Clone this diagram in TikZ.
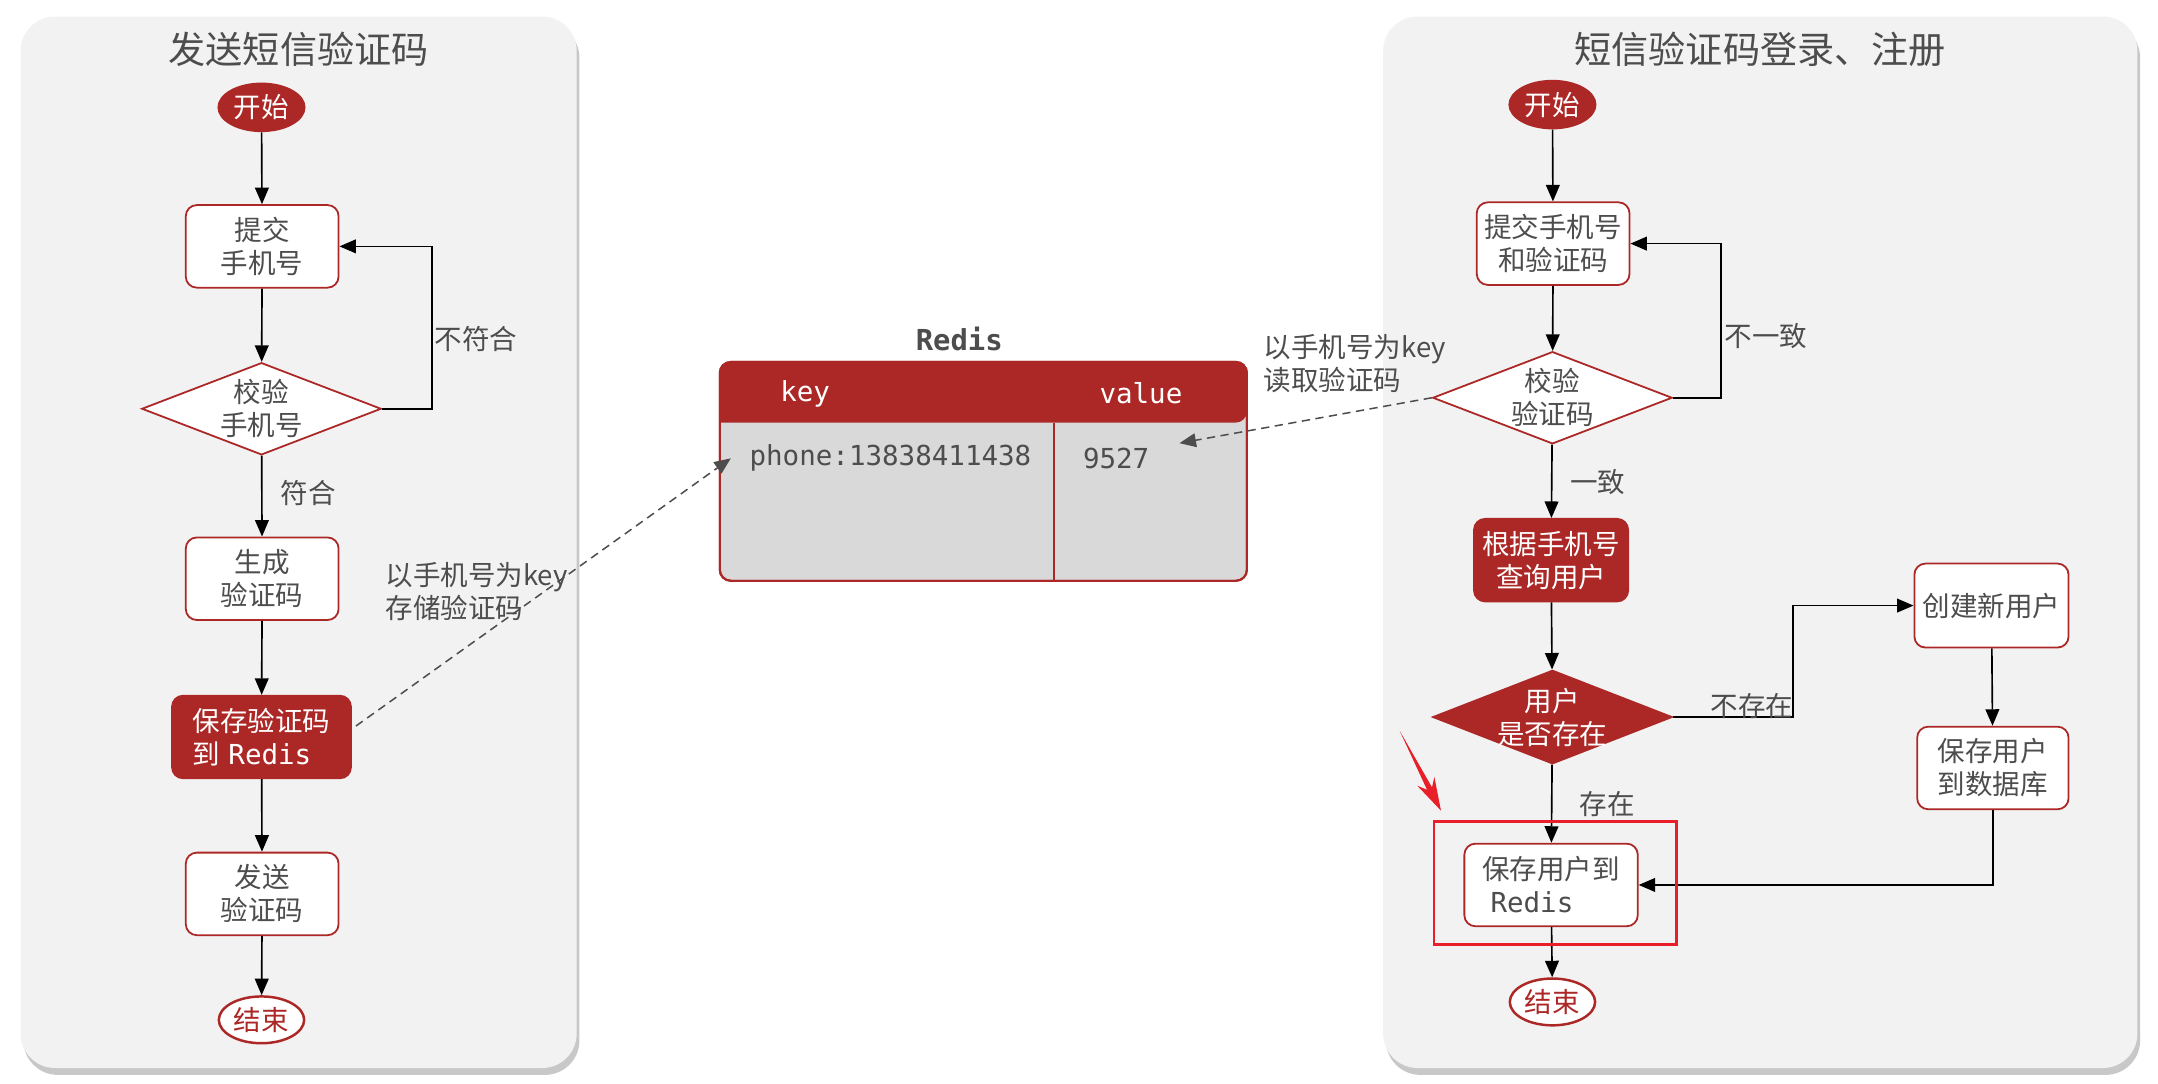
\documentclass[tikz,border=0pt]{standalone}
\usepackage{fontspec}
\setmainfont{Noto Sans CJK SC}
\newfontfamily\monof{DejaVu Sans Mono}
\usetikzlibrary{shapes.geometric,arrows.meta,shadows}
\definecolor{dred}{RGB}{172,40,38}
\definecolor{tgray}{RGB}{77,77,77}
\definecolor{pgray}{RGB}{242,242,242}
\definecolor{rbody}{RGB}{217,217,217}
\definecolor{hred}{RGB}{232,30,40}
\begin{document}
\begin{tikzpicture}[x=1pt,y=-1pt,
  font=\fontsize{20}{24}\selectfont,
  box/.style={draw=dred, line width=1.3pt, fill=white, rounded corners=8pt, minimum width=111pt, minimum height=60pt, inner sep=0pt, align=center, text=tgray},
  fbox/.style={box, fill=dred, text=white},
  dia/.style={diamond, draw=dred, line width=1.3pt, fill=white, minimum width=174pt, minimum height=67pt, inner sep=0pt, aspect=2.6},
  fdia/.style={dia, fill=dred},
  dtxt/.style={label={[align=center, text=tgray, inner sep=0pt]center:#1}},
  fdtxt/.style={label={[align=center, text=white, inner sep=0pt]center:#1}},
  startn/.style={ellipse, fill=dred, text=white, minimum width=64pt, minimum height=36pt, inner sep=0pt},
  endn/.style={ellipse, draw=dred, line width=1.8pt, fill=white, text=dred, minimum width=62pt, minimum height=34pt, inner sep=0pt},
  arr/.style={draw=black, line width=1.2pt, -{Triangle[length=12pt,width=10pt]}},
  darr/.style={draw=tgray, line width=1.1pt, dash pattern=on 6pt off 4pt, -{Triangle[length=12pt,width=10pt]}},
  lbl/.style={text=tgray, inner sep=0pt},
  panel/.style={fill=pgray, rounded corners=25pt, drop shadow={shadow xshift=2pt, shadow yshift=-5pt, opacity=0.3, fill=black!70}}
]
\fill[white] (0,0) rectangle (1568,787.6);
\useasboundingbox (0,0) rectangle (1568,787.6);

% panels
\path[panel] (15,12) rectangle (419,776);
\path[panel] (1005,12) rectangle (1553,776);
\node[lbl, font=\fontsize{27}{30}\selectfont] (t1) at (217,36) {发送短信验证码};
\node[lbl, font=\fontsize{27}{30}\selectfont] (t2) at (1279,36) {短信验证码登录、注册};

% left flow
\node[startn] (s1) at (190,78) {开始};
\node[box] (sub1) at (190.5,179) {提交\\手机号};
\node[dia, dtxt={校验\\手机号}] (chk1) at (190,297) {};
\node[box] (gen1) at (190.5,420.5) {生成\\验证码};
\node[fbox, minimum width=130pt, align=left] (save1) at (190,535.5) {保存验证码\\到\hspace{6pt}{\monof Redis}};
\node[box] (send1) at (190.5,649.5) {发送\\验证码};
\node[endn] (e1) at (190,741) {结束};

\draw[arr] (s1) -- (sub1);
\draw[arr] (sub1) -- (chk1);
\draw[arr] (chk1) -- (gen1);
\draw[arr] (gen1) -- (save1);
\draw[arr] (save1) -- (send1);
\draw[arr] (send1) -- (e1);
\draw[arr] (chk1.east) -- ++(36,0) |- (sub1.east);
\node[lbl] (l1) at (346,246) {不符合};
\node[lbl] (l2) at (224,358) {符合};
\node[lbl, align=left, anchor=west] (l3) at (280,430) {以手机号为key\\存储验证码};

% Redis table
\node[lbl, font=\monof\bfseries\fontsize{21}{24}\selectfont] (rt) at (697,246) {Redis};
\node[draw=dred, line width=1.5pt, fill=rbody, rounded corners=8pt, minimum width=383pt, minimum height=159pt, inner sep=0pt] (rtab) at (714.5,342.5) {};
\fill[dred] [rounded corners=8pt] (523,307) |- (714,263) -| (906,307) [sharp corners] -- cycle;
\draw[dred, line width=1.5pt, rounded corners=8pt] (523,263) rectangle (906,422);
\draw[dred, line width=1.2pt] (766,307) -- (766,422);
\node[text=white, font=\monof\fontsize{20}{24}\selectfont] (kh) at (585,286) {key};
\node[text=white, font=\monof\fontsize{20}{24}\selectfont] (vh) at (829,286) {value};
\node[lbl, font=\monof\fontsize{20}{24}\selectfont] (kv) at (647,333) {phone:13838411438};
\node[lbl, font=\monof\fontsize{20}{24}\selectfont] (vv) at (811,333) {9527};
\coordinate (kin) at (531,333);
\coordinate (vin) at (857,322);
\draw[darr] ([shift={(3,-8)}]save1.east) -- (kin);

% right flow
\node[startn] (s2) at (1128,76) {开始};
\node[box] (sub2) at (1128.5,177) {提交手机号\\和验证码};
\node[dia, dtxt={校验\\验证码}] (chk2) at (1128,289) {};
\node[fbox, minimum width=112pt] (q2) at (1127,407) {根据手机号\\查询用户};
\node[fdia, minimum height=68pt, fdtxt={用户\\是否存在}] (ex2) at (1128,521) {};
\node[box, minimum width=112pt, minimum height=61pt] (new2) at (1447,440) {创建新用户};
\node[box, minimum width=110pt] (db2) at (1448,558) {保存用户\\到数据库};
\node[box, minimum width=126pt, align=left] (rd2) at (1127,643) {保存用户到\\\hspace{6pt}{\monof Redis}};
\node[endn] (e2) at (1128,728) {结束};

\draw[arr] (s2) -- (sub2);
\draw[arr] (sub2) -- (chk2);
\draw[arr] (chk2) -- (q2);
\draw[arr] (q2) -- (ex2);
\draw[arr] (chk2.east) -- ++(35,0) |- (sub2.east);
\draw[arr] (ex2.east) -- (1303,521) |- (new2.west);
\draw[arr] (new2) -- (db2);
\draw[arr] (db2.south) |- (rd2.east);
\draw[arr] (ex2) -- (rd2);
\draw[arr] (rd2) -- (e2);
\draw[darr] (chk2.west) -- (vin);

\node[lbl] (l4) at (1283,244) {不一致};
\node[lbl] (l5) at (1161,350) {一致};
\node[lbl] (l6) at (1273,513) {不存在};
\node[lbl] (l7) at (1168,584) {存在};
\node[lbl, align=left, anchor=west] (l8) at (918,264) {以手机号为key\\读取验证码};

% highlight
\draw[hred, line width=2pt] (1042,597) rectangle (1218,686);
\fill[hred] (1017,531) -- (1036.9,573.9) -- (1029.8,570.9) -- (1047,589) -- (1042.2,564.5) -- (1040.5,572.1) -- cycle;
\end{tikzpicture}
\end{document}
